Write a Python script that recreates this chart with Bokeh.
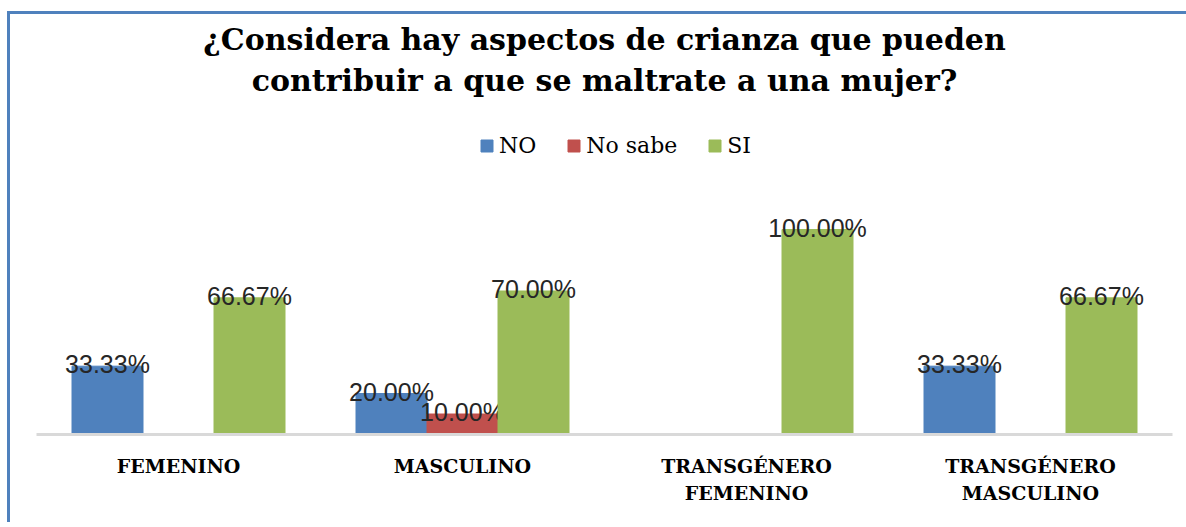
from bokeh.plotting import figure
from bokeh.models import ColumnDataSource, FactorRange, Range1d, Legend, LegendItem, Title
from bokeh.transform import dodge
from bokeh.core.properties import value
from bokeh.embed import file_html
from bokeh.resources import INLINE

# ---- data ----
categories = ["FEMENINO", "MASCULINO", "TRANSGÉNERO\nFEMENINO", "TRANSGÉNERO\nMASCULINO"]
series_names = ["NO", "No sabe", "SI"]
no_vals = [33.33, 20.00, 0.00, 33.33]
nosabe_vals = [0.00, 10.00, 0.00, 0.00]
si_vals = [66.67, 70.00, 100.00, 66.67]
series_colors = ["#4F81BD", "#C0504D", "#9BBB59"]
title_lines = ["¿Considera hay aspectos de crianza que pueden",
               "contribuir a que se maltrate a una mujer?"]

p = figure(
    x_range=FactorRange(*categories, range_padding=0),
    y_range=Range1d(0, 148.3),
    frame_width=1136, frame_height=304,
    min_border_left=26, min_border_right=14, min_border_top=116, min_border_bottom=88,
    output_backend="svg", toolbar_location=None,
    styles={"border-top": "3px solid #4F81BD", "border-left": "3px solid #4F81BD",
            "margin-top": "11px", "margin-left": "7px"},
)

# spacer between the plot area and the title (room for the legend)
p.add_layout(Title(text=" ", text_font_size="22px", standoff=4), "above")
# two title lines (line 2 first = closer to the plot)
for line in reversed(title_lines):
    p.add_layout(Title(text=line, align="center", text_font="DejaVu Serif",
                       text_font_style="bold", text_font_size="30px",
                       text_color="#000000", standoff=4), "above")

p.outline_line_color = None
p.xgrid.grid_line_color = None
p.ygrid.grid_line_color = None
p.yaxis.visible = False

p.xaxis.axis_line_color = "#D9D9D9"
p.xaxis.axis_line_width = 3
p.xaxis.major_tick_line_color = None
p.xaxis.minor_tick_line_color = None
p.xaxis.major_label_text_font = "DejaVu Serif"
p.xaxis.major_label_text_font_style = "bold"
p.xaxis.major_label_text_font_size = "19px"
p.xaxis.major_label_text_line_height = 1.25
p.xaxis.major_label_text_color = "#000000"
p.xaxis.major_label_standoff = 14

offsets = [-0.25, 0.0, 0.25]
vals_list = [no_vals, nosabe_vals, si_vals]
items = []
for name, vals, col, off in zip(series_names, vals_list, series_colors, offsets):
    src = ColumnDataSource(dict(cat=categories, val=vals))
    r = p.vbar(x=dodge("cat", off, range=p.x_range), top="val", width=0.25,
               source=src, fill_color=col, line_color=col)
    items.append(LegendItem(label=name, renderers=[r]))
    nz = [i for i, v in enumerate(vals) if v > 0]
    lsrc = ColumnDataSource(dict(cat=[categories[i] for i in nz],
                                 val=[vals[i] for i in nz],
                                 lab=["%.2f%%" % vals[i] for i in nz]))
    p.text(x=dodge("cat", off, range=p.x_range), y="val", text="lab", source=lsrc,
           text_align="center", text_baseline="alphabetic", y_offset=-2,
           text_font=value("Liberation Sans"), text_font_size="25px",
           text_color="#262626")

legend = Legend(items=items, location=(443, 276), orientation="horizontal",
                glyph_width=15, glyph_height=15, label_standoff=5, spacing=30,
                padding=0, margin=0, border_line_color=None, background_fill_alpha=0,
                label_text_font="DejaVu Serif", label_text_font_size="22px",
                label_text_color="#000000")
p.add_layout(legend, "center")

open("out.html", "w").write(file_html(p, INLINE))
